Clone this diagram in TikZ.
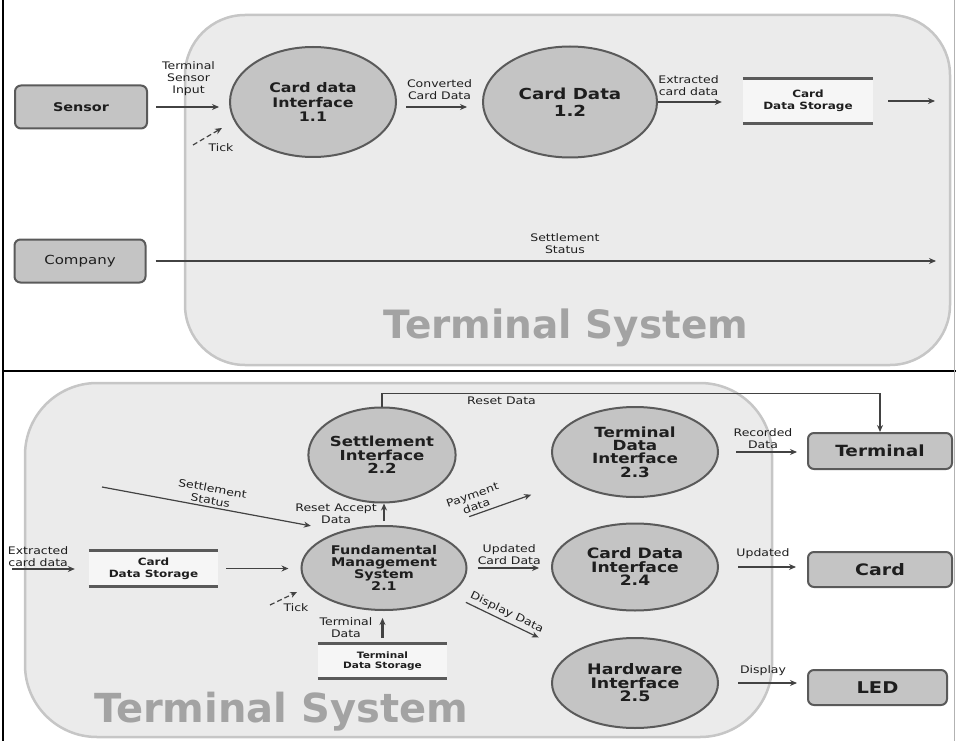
\documentclass[tikz,border=0pt]{standalone}
\usepackage{fontspec}
\setmainfont{DejaVu Sans}[FakeStretch=1.2]
\newfontfamily\titleFont{DejaVu Sans}
\usetikzlibrary{positioning,shapes.geometric,arrows.meta}
\definecolor{bubbleFill}{HTML}{C4C4C4}
\definecolor{bubbleLine}{HTML}{5A5A5A}
\definecolor{systemFill}{HTML}{EBEBEB}
\definecolor{systemLine}{HTML}{C6C6C6}
\definecolor{storeFill}{HTML}{F6F6F6}
\definecolor{flowLine}{HTML}{424242}
\definecolor{titleGray}{HTML}{A3A3A3}
\definecolor{inkDark}{HTML}{1E1E1E}
\lineskiplimit=-20pt
\lineskip=0pt

\begin{document}
\begin{tikzpicture}[
        x=1pt, y=-1pt,
        system/.style={
                rectangle,
                draw=systemLine,
                fill=systemFill,
                line width=2.5pt,
                inner sep=0pt
            },
        process/.style={
                ellipse,
                draw=bubbleLine,
                fill=bubbleFill,
                line width=2pt,
                inner sep=0pt,
                align=center,
                text=inkDark
            },
        entity/.style={
                rectangle,
                rounded corners=6pt,
                draw=bubbleLine,
                fill=bubbleFill,
                line width=2pt,
                inner sep=0pt,
                text=inkDark
            },
        store/.style={
                rectangle,
                fill=storeFill,
                inner sep=0pt,
                align=center,
                text=inkDark
            },
        storeLine/.style={draw=bubbleLine, line width=3pt},
        systemTitle/.style={font=\titleFont\bfseries\fontsize{39}{39}\selectfont, text=titleGray},
        flowText/.style={font=\fontsize{10.4}{12}\selectfont, align=center, text=inkDark, inner sep=1pt},
        flow/.style={draw=flowLine, line width=1.2pt, -{Stealth[length=7pt,width=6pt]}},
        tickFlow/.style={flow, dash pattern=on 5pt off 3pt}
    ]
    \useasboundingbox (0,0) rectangle (956,741);
    % frame of the two panels
    \draw[black, line width=1.5pt] (3,0) -- (3,741);
    \draw[black, line width=1.5pt] (3,371) -- (956,371);
    \draw[black!30, line width=1pt] (954,0) -- (954,741);

    % upper panel
    \node[system, rounded corners=60pt, minimum width=765pt, minimum height=350pt] (topSystem) at (567.5,190) {};
    \node[systemTitle] (topTitle) at (566,328) {Terminal System};

    \node[entity, minimum width=132pt, minimum height=43pt, font=\bfseries\fontsize{12}{13}\selectfont] (sensor) at (81,107) {Sensor};
    \node[entity, minimum width=131pt, minimum height=43pt, font=\fontsize{12.5}{13}\selectfont] (company) at (80,261) {Company};
    \node[process, minimum width=166pt, minimum height=110pt, font=\bfseries\fontsize{13.2}{14.5}\selectfont] (cardDataIf) at (313,102) {Card data\\Interface\\1.1};
    \node[process, minimum width=174pt, minimum height=111pt, font=\bfseries\fontsize{15.2}{17}\selectfont] (cardData) at (570,102) {Card Data\\1.2};
    \node[store, minimum width=130pt, minimum height=45pt, font=\bfseries\fontsize{10}{12}\selectfont] (cardStore) at (808,101) {Card\\Data Storage};
    \draw[storeLine] (cardStore.north west) -- (cardStore.north east) (cardStore.south west) -- (cardStore.south east);

    \coordinate (cardOut) at (935,101);
    \coordinate (statusOut) at (936,261);
    \coordinate (tickTopFrom) at (193,145);
    \coordinate (tickTopTo) at (222,128);

    \draw[flow, shorten <=8pt, shorten >=10pt] (sensor.east) -- node[flowText, above=10pt] {Terminal\\Sensor\\Input} (sensor.east -| cardDataIf.west);
    \draw[flow, shorten <=9pt, shorten >=15pt] ([yshift=-5pt]cardDataIf.east) -- node[flowText, above=6pt] {Converted\\Card Data} ([yshift=-5pt]cardData.west);
    \draw[flow, shorten >=21pt] (cardData.east) -- node[flowText, above=5pt, pos=0.36] {Extracted\\card data} (cardData.east -| cardStore.west);
    \draw[flow, shorten <=15pt] (cardStore.east) -- (cardOut);
    \draw[flow, shorten <=9pt] (company.east) -- node[flowText, above=6pt, pos=0.53] {Settlement\\Status} (statusOut);
    \draw[tickFlow] (tickTopFrom) -- (tickTopTo);
    \node[flowText] (tickTop) at (221,148) {Tick};

    % lower panel
    \node[system, rounded corners=72pt, minimum width=747pt, minimum height=354pt] (bottomSystem) at (398.5,560) {};
    \node[systemTitle, font=\titleFont\bfseries\fontsize{40}{40}\selectfont] (bottomTitle) at (281,712) {Terminal System};

    \node[process, minimum width=146pt, minimum height=95pt, font=\bfseries\fontsize{13.8}{13.4}\selectfont] (settle) at (382,455) {Settlement\\Interface\\2.2};
    \node[process, minimum width=165pt, minimum height=84pt, font=\bfseries\fontsize{12}{12}\selectfont] (fms) at (384,568) {Fundamental\\Management\\System\\2.1};
    \node[process, minimum width=166pt, minimum height=90pt, font=\bfseries\fontsize{14}{13.3}\selectfont] (tdi) at (635,452) {Terminal\\Data\\Interface\\2.3};
    \node[process, minimum width=166pt, minimum height=87pt, font=\bfseries\fontsize{14.3}{13.5}\selectfont] (cdi) at (635,567) {Card Data\\Interface\\2.4};
    \node[process, minimum width=166pt, minimum height=90pt, font=\bfseries\fontsize{14.5}{13.5}\selectfont] (hwi) at (635,683) {Hardware\\Interface\\2.5};

    \node[entity, minimum width=144pt, minimum height=36pt, font=\bfseries\fontsize{15.4}{16}\selectfont] (term) at (880,451) {Terminal};
    \node[entity, minimum width=144pt, minimum height=35pt, font=\bfseries\fontsize{15.8}{16}\selectfont] (card) at (880,569.5) {Card};
    \node[entity, minimum width=139pt, minimum height=35pt, font=\bfseries\fontsize{16.2}{16}\selectfont] (led) at (877.5,687.5) {LED};

    \node[store, minimum width=129pt, minimum height=35pt, font=\bfseries\fontsize{10}{12}\selectfont] (cardStoreB) at (153.5,568.5) {Card\\Data Storage};
    \node[store, minimum width=129pt, minimum height=34pt, font=\bfseries\fontsize{8.8}{10}\selectfont] (termStore) at (382.5,661) {Terminal\\Data Storage};
    \draw[storeLine] (cardStoreB.north west) -- (cardStoreB.north east) (cardStoreB.south west) -- (cardStoreB.south east);
    \draw[storeLine] (termStore.north west) -- (termStore.north east) (termStore.south west) -- (termStore.south east);

    \coordinate (extIn) at (12,569);
    \coordinate (statusIn) at (102,487);
    \coordinate (tickBotFrom) at (270,605);
    \coordinate (tickBotTo) at (297,592);

    \draw[flow, shorten >=14pt] (extIn) -- node[flowText, above=1pt, pos=0.34] {Extracted\\card data} (extIn -| cardStoreB.west);
    \draw[flow, shorten <=8pt, shorten >=12pt] (cardStoreB.east) -- (cardStoreB.east -| fms.west);
    \draw[flow, shorten >=30pt] (statusIn) -- node[flowText, sloped, above=1pt, pos=0.45] {Settlement\\Status} (fms.140);
    \draw[flow, line width=2.4pt, shorten <=4pt] (fms.north) -- node[flowText, left=5pt] {Reset Accept\\Data} (fms.north |- settle.south);
    \draw[flow, line width=1.6pt] (settle.north) -- ++(0,-13) -| node[flowText, below=2pt, pos=0.12] {Reset Data} (term.north);
    \draw[flow, shorten <=44pt, shorten >=41pt] (fms.40) -- node[flowText, sloped, above=2pt, pos=0.36] {Payment\\data} (tdi.204);
    \draw[flow, shorten <=10pt, shorten >=12pt] (fms.east) -- node[flowText, above=2pt] {Updated\\Card Data} (fms.east -| cdi.west);
    \draw[flow, shorten <=18pt, shorten >=36pt] (fms.338) -- node[flowText, sloped, above=2pt, pos=0.44] {Display Data} (hwi.155);
    \draw[flow, line width=2.4pt, shorten <=6pt, shorten >=7pt] (termStore.north) -- node[flowText, left=8pt] {Terminal\\Data} (termStore.north |- fms.south);
    \draw[tickFlow] (tickBotFrom) -- (tickBotTo);
    \node[flowText] (tickBot) at (296,608) {Tick};

    \draw[flow, shorten <=17pt, shorten >=10pt] (tdi.east) -- node[flowText, above=2pt] {Recorded\\Data} (tdi.east -| term.west);
    \draw[flow, shorten <=19pt, shorten >=11pt] (cdi.east) -- node[flowText, above=7pt] {Updated} (cdi.east -| card.west);
    \draw[flow, shorten <=19pt, shorten >=10pt] (hwi.east) -- node[flowText, above=6pt] {Display} (hwi.east -| led.west);
\end{tikzpicture}
\end{document}
